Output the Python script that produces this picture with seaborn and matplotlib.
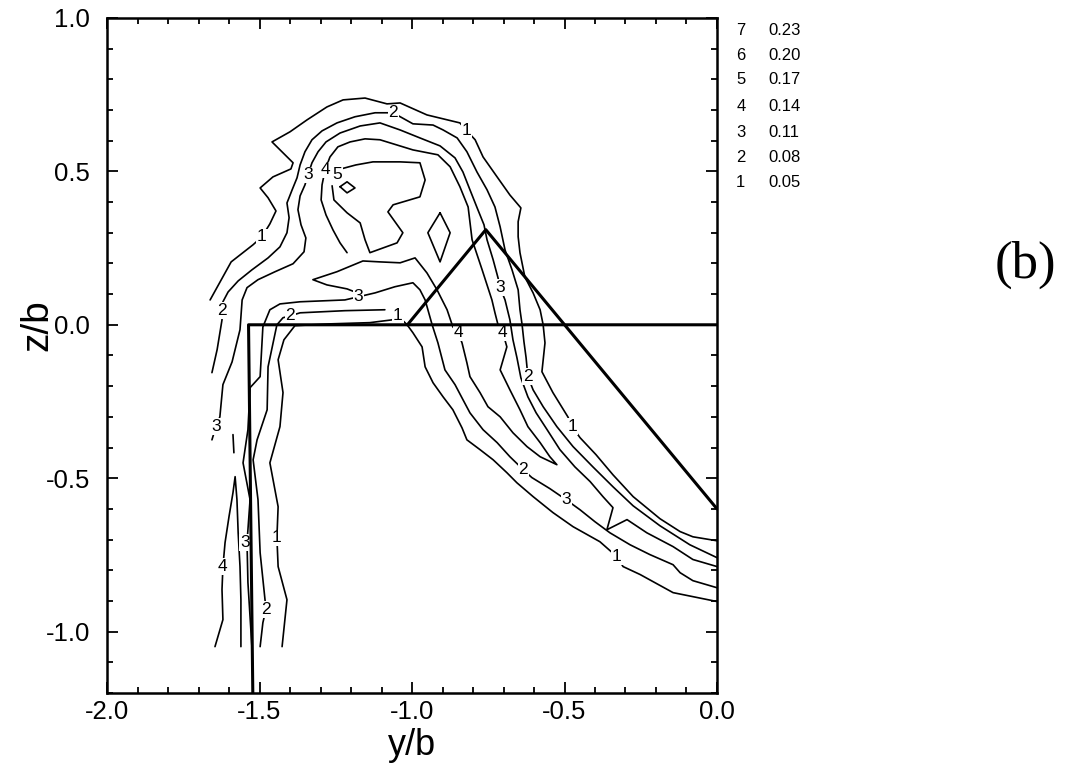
import matplotlib
matplotlib.use("Agg")
import matplotlib.pyplot as plt
from matplotlib.ticker import FixedLocator, MultipleLocator
import pandas as pd
import seaborn as sns

# ---------------- contour traces: (y/b, z/b) ----------------
L1_UPPER_Y = [-1.662, -1.593, -1.521, -1.492, -1.466, -1.446, -1.472, -1.498, -1.456, -1.397,
              -1.390, -1.459, -1.400, -1.344, -1.279, -1.226, -1.154, -1.082, -1.039, -0.951,
              -0.843, -0.820, -0.793, -0.767, -0.721, -0.679, -0.643, -0.652, -0.652, -0.646,
              -0.630, -0.603, -0.580, -0.570, -0.564, -0.574, -0.538, -0.489, -0.475, -0.449,
              -0.397, -0.341, -0.275, -0.187, -0.121, -0.079, 0.0]
L1_UPPER_Z = [0.081, 0.205, 0.261, 0.287, 0.329, 0.371, 0.414, 0.446, 0.482, 0.508,
              0.528, 0.596, 0.629, 0.668, 0.710, 0.733, 0.739, 0.720, 0.723, 0.684,
              0.658, 0.632, 0.603, 0.547, 0.482, 0.423, 0.381, 0.336, 0.287, 0.235,
              0.156, 0.104, 0.049, 0.0, -0.059, -0.153, -0.221, -0.300, -0.332, -0.368,
              -0.423, -0.489, -0.560, -0.632, -0.674, -0.691, -0.704]

L2_UPPER_Y = [-1.656, -1.639, -1.623, -1.623, -1.620, -1.603, -1.570, -1.525, -1.472, -1.433,
              -1.410, -1.403, -1.410, -1.393, -1.377, -1.367, -1.351, -1.328, -1.295, -1.246,
              -1.187, -1.121, -1.062, -0.997, -0.931, -0.898, -0.852, -0.820, -0.787, -0.754,
              -0.728, -0.711, -0.695, -0.672, -0.652, -0.646, -0.639, -0.633, -0.626, -0.620,
              -0.603, -0.570, -0.525, -0.472, -0.407, -0.341, -0.275, -0.187, -0.089, 0.0]
L2_UPPER_Z = [-0.156, -0.081, 0.016, 0.046, 0.075, 0.107, 0.143, 0.179, 0.218, 0.254,
              0.300, 0.349, 0.397, 0.440, 0.479, 0.521, 0.564, 0.603, 0.632, 0.658,
              0.678, 0.691, 0.691, 0.655, 0.651, 0.635, 0.609, 0.564, 0.498, 0.440,
              0.384, 0.319, 0.244, 0.179, 0.114, 0.049, 0.0, -0.055, -0.107, -0.169,
              -0.212, -0.267, -0.332, -0.397, -0.463, -0.528, -0.590, -0.655, -0.717, -0.759]

L3_UPPER_Y = [-1.656, -1.643, -1.630, -1.620, -1.590, -1.564, -1.557, -1.541, -1.505, -1.449,
              -1.390, -1.354, -1.348, -1.364, -1.374, -1.367, -1.351, -1.341, -1.328, -1.308,
              -1.282, -1.236, -1.170, -1.105, -1.039, -0.974, -0.908, -0.859, -0.833, -0.810,
              -0.784, -0.764, -0.754, -0.734, -0.718, -0.711, -0.695, -0.679, -0.669, -0.656,
              -0.643, -0.620, -0.593, -0.557, -0.515, -0.466, -0.416, -0.374, -0.341, -0.361,
              -0.295, -0.230, -0.144, -0.079, 0.0]
L3_UPPER_Z = [-0.375, -0.332, -0.300, -0.195, -0.121, -0.016, 0.081, 0.121, 0.147, 0.173,
              0.199, 0.238, 0.283, 0.326, 0.375, 0.420, 0.456, 0.489, 0.528, 0.564,
              0.596, 0.625, 0.648, 0.658, 0.635, 0.609, 0.583, 0.544, 0.498, 0.440,
              0.375, 0.326, 0.277, 0.212, 0.153, 0.121, 0.081, 0.016, -0.049, -0.107,
              -0.173, -0.235, -0.287, -0.342, -0.407, -0.463, -0.511, -0.560, -0.596, -0.668,
              -0.635, -0.678, -0.723, -0.765, -0.788]

L4_CORE_Y = [-1.213, -1.236, -1.259, -1.282, -1.298, -1.295, -1.285, -1.269, -1.243, -1.203,
             -1.154, -1.105, -0.997, -0.915, -0.875, -0.843, -0.816, -0.803, -0.770, -0.738,
             -0.728, -0.718, -0.702, -0.689, -0.711, -0.679, -0.646, -0.620, -0.580, -0.548,
             -0.525, -0.580, -0.623, -0.669, -0.711, -0.751, -0.777, -0.810, -0.820, -0.836,
             -0.849, -0.866, -0.885, -0.918, -0.951, -0.990, -1.039, -1.105, -1.161, -1.246,
             -1.325, -1.279, -1.213, -1.187]
L4_CORE_Z = [0.235, 0.267, 0.309, 0.358, 0.407, 0.456, 0.505, 0.547, 0.580, 0.596,
             0.606, 0.603, 0.570, 0.554, 0.515, 0.450, 0.384, 0.277, 0.179, 0.081,
             0.039, 0.0, -0.026, -0.072, -0.147, -0.212, -0.277, -0.332, -0.384, -0.430,
             -0.456, -0.430, -0.397, -0.352, -0.300, -0.267, -0.221, -0.169, -0.124, -0.059,
             -0.026, -0.007, 0.049, 0.114, 0.169, 0.218, 0.202, 0.205, 0.208, 0.173,
             0.147, 0.130, 0.117, 0.107]

L5_CORE_Y = [-1.233, -1.184, -1.128, -1.039, -0.974, -0.957, -0.974, -1.062, -1.079, -1.030,
             -1.049, -1.138, -1.154, -1.170, -1.213, -1.256, -1.262]
L5_CORE_Z = [0.508, 0.521, 0.531, 0.531, 0.528, 0.472, 0.417, 0.391, 0.368, 0.300,
             0.267, 0.235, 0.277, 0.332, 0.365, 0.407, 0.453]

ISLAND_A_Y = [-1.236, -1.213, -1.187, -1.213, -1.236]
ISLAND_A_Z = [0.450, 0.466, 0.446, 0.430, 0.450]
ISLAND_B_Y = [-0.908, -0.875, -0.908, -0.948, -0.908]
ISLAND_B_Z = [0.365, 0.300, 0.205, 0.300, 0.365]

L3_LOWER_Y = [-1.525, -1.538, -1.541, -1.531, -1.554, -1.538, -1.531, -1.498, -1.489, -1.466,
              -1.433, -1.367, -1.220, -1.177, -1.121, -1.056, -0.997, -0.974, -0.957, -0.934,
              -0.915, -0.892, -0.859, -0.833, -0.810, -0.767, -0.721, -0.679, -0.652, -0.636,
              -0.607, -0.548, -0.495, -0.449, -0.400, -0.351, -0.285, -0.220, -0.144, -0.121,
              -0.079, 0.0]
L3_LOWER_Z = [-1.049, -0.840, -0.710, -0.570, -0.450, -0.342, -0.205, -0.169, -0.007, 0.049,
              0.068, 0.075, 0.081, 0.091, 0.104, 0.124, 0.137, 0.114, 0.081, 0.0,
              -0.059, -0.147, -0.195, -0.244, -0.287, -0.342, -0.384, -0.430, -0.456, -0.472,
              -0.498, -0.534, -0.570, -0.603, -0.642, -0.678, -0.717, -0.749, -0.782, -0.808,
              -0.834, -0.857]

L2_LOWER_Y = [-1.498, -1.489, -1.479, -1.482, -1.498, -1.505, -1.521, -1.508, -1.475, -1.472,
              -1.443, -1.423, -1.400, -1.367, -1.220, -1.089]
L2_LOWER_Z = [-1.049, -0.971, -0.928, -0.896, -0.743, -0.570, -0.440, -0.375, -0.277, -0.137,
              0.0, 0.023, 0.029, 0.039, 0.046, 0.049]

L1_LOWER_Y = [-1.426, -1.410, -1.439, -1.443, -1.439, -1.466, -1.433, -1.423, -1.439, -1.420,
              -1.384, -1.269, -1.138, -1.066, -1.046, -1.016, -0.997, -0.967, -0.957, -0.931,
              -0.898, -0.866, -0.836, -0.820, -0.777, -0.734, -0.689, -0.656, -0.603, -0.538,
              -0.472, -0.384, -0.328, -0.308, -0.252, -0.144, 0.0]
L1_LOWER_Z = [-1.049, -0.896, -0.788, -0.694, -0.593, -0.450, -0.332, -0.221, -0.114, -0.049,
              -0.003, 0.003, 0.007, 0.016, 0.029, 0.0, -0.026, -0.072, -0.137, -0.189,
              -0.235, -0.277, -0.336, -0.375, -0.407, -0.440, -0.482, -0.515, -0.560, -0.612,
              -0.658, -0.707, -0.756, -0.788, -0.814, -0.873, -0.902]

L4_TONGUE_Y = [-1.646, -1.620, -1.623, -1.620, -1.613, -1.600, -1.587, -1.580, -1.574, -1.570,
               -1.564, -1.561, -1.561]
L4_TONGUE_Z = [-1.049, -0.961, -0.863, -0.788, -0.710, -0.625, -0.547, -0.495, -0.570, -0.678,
               -0.788, -0.896, -1.049]

FRAGMENT_Y = [-1.587, -1.584]
FRAGMENT_Z = [-0.358, -0.417]

# ---------------- in-line contour labels ----------------
LABEL_TEXT = ["1", "1", "1", "2", "2", "2", "3", "3", "3", "4", "4", "4", "5",
              "3", "3", "2", "3", "2", "2", "1", "1", "1", "4"]
LABEL_Y = [-1.492, -0.820, -0.475, -1.623, -1.062, -0.620, -1.643, -1.341, -0.711,
           -1.285, -0.702, -0.849, -1.246,
           -1.548, -1.177, -0.636, -0.495, -1.479, -1.400, -1.443, -1.046, -0.328, -1.620]
LABEL_Z = [0.287, 0.632, -0.332, 0.046, 0.691, -0.169, -0.332, 0.489, 0.121,
           0.505, -0.026, -0.026, 0.489,
           -0.710, 0.091, -0.472, -0.570, -0.928, 0.029, -0.694, 0.029, -0.756, -0.788]

# ---------------- wing / flap outline ----------------
SPAR_Y = [-1.522, -1.536, 0.0]
SPAR_Z = [-1.2, 0.0, 0.0]
FLAP_Y = [-1.015, -0.758, 0.0]
FLAP_Z = [0.0, 0.310, -0.600]

# ---------------- level legend ----------------
LEVEL_IDS = ["7", "6", "5", "4", "3", "2", "1"]
LEVEL_VALUES = ["0.23", "0.20", "0.17", "0.14", "0.11", "0.08", "0.05"]

X_TICKS = [-2.0, -1.5, -1.0, -0.5, 0.0]
X_TICK_LABELS = ["-2.0", "-1.5", "-1.0", "-0.5", "0.0"]
Y_TICKS = [-1.0, -0.5, 0.0, 0.5, 1.0]
Y_TICK_LABELS = ["-1.0", "-0.5", "0.0", "0.5", "1.0"]

CONTOUR_LINES = [
    ("l1_upper", L1_UPPER_Y, L1_UPPER_Z),
    ("l2_upper", L2_UPPER_Y, L2_UPPER_Z),
    ("l3_upper", L3_UPPER_Y, L3_UPPER_Z),
    ("l4_core", L4_CORE_Y, L4_CORE_Z),
    ("l5_core", L5_CORE_Y, L5_CORE_Z),
    ("island_a", ISLAND_A_Y, ISLAND_A_Z),
    ("island_b", ISLAND_B_Y, ISLAND_B_Z),
    ("l3_lower", L3_LOWER_Y, L3_LOWER_Z),
    ("l2_lower", L2_LOWER_Y, L2_LOWER_Z),
    ("l1_lower", L1_LOWER_Y, L1_LOWER_Z),
    ("l4_tongue", L4_TONGUE_Y, L4_TONGUE_Z),
    ("fragment", FRAGMENT_Y, FRAGMENT_Z),
]
OUTLINE = [("spar", SPAR_Y, SPAR_Z), ("flap", FLAP_Y, FLAP_Z)]


def to_frame(lines):
    rows = []
    for name, ys, zs in lines:
        for k, (yy, zz) in enumerate(zip(ys, zs)):
            rows.append({"line": name, "k": k, "y": yy, "z": zz})
    return pd.DataFrame(rows)


sns.set_theme(style="ticks", rc={
    "axes.edgecolor": "black", "axes.labelcolor": "black", "text.color": "black",
    "xtick.color": "black", "ytick.color": "black",
})
plt.rcParams["font.family"] = ["Liberation Sans", "DejaVu Sans"]
plt.rcParams["axes.unicode_minus"] = False

fig = plt.figure(figsize=(10.66, 7.78), dpi=100)
ax = fig.add_axes([0.1004, 0.1093, 0.5722, 0.8676])

sns.lineplot(data=to_frame(CONTOUR_LINES), x="y", y="z", units="line", estimator=None,
             sort=False, color="black", linewidth=1.2, legend=False, ax=ax, zorder=2)
sns.lineplot(data=to_frame(OUTLINE), x="y", y="z", units="line", estimator=None,
             sort=False, color="black", linewidth=2.2, legend=False, ax=ax, zorder=4)

for t, yy, zz in zip(LABEL_TEXT, LABEL_Y, LABEL_Z):
    ax.text(yy, zz, t, ha="center", va="center", fontsize=12.5, zorder=3,
            bbox=dict(boxstyle="square,pad=0.04", fc="white", ec="none"))

ax.set_xlim(-2.0, 0.0)
ax.set_ylim(-1.2, 1.0)
ax.xaxis.set_major_locator(FixedLocator(X_TICKS))
ax.set_xticklabels(X_TICK_LABELS)
ax.yaxis.set_major_locator(FixedLocator(Y_TICKS))
ax.set_yticklabels(Y_TICK_LABELS)
ax.xaxis.set_minor_locator(MultipleLocator(0.1))
ax.yaxis.set_minor_locator(MultipleLocator(0.1))
ax.tick_params(which="both", direction="in", top=True, right=True, width=1.3)
ax.tick_params(which="major", length=8, labelsize=18.5)
ax.tick_params(axis="x", which="major", pad=5)
ax.tick_params(axis="y", which="major", pad=12)
ax.tick_params(which="minor", length=4)
for s in ax.spines.values():
    s.set_linewidth(1.8)
    s.set_color("black")

ax.set_xlabel("y/b", fontsize=26)
ax.xaxis.set_label_coords(0.5, -0.052)
ax.xaxis.label.set_va("top")
ax.set_ylabel("z/b", fontsize=28)
ax.yaxis.set_label_coords(-0.084, 0.545)

row_y = [0.9614, 0.9293, 0.8972, 0.8625, 0.8303, 0.7982, 0.7648]
for lid, val, fy in zip(LEVEL_IDS, LEVEL_VALUES, row_y):
    fig.text(0.695, fy, lid, ha="center", va="center", fontsize=12)
    fig.text(0.7205, fy, val, ha="left", va="center", fontsize=12)

fig.text(0.9615, 0.6594, "(b)", ha="center", va="center", fontsize=38,
         family=["Liberation Serif", "DejaVu Serif"])

fig.savefig("out.png", dpi=100)
